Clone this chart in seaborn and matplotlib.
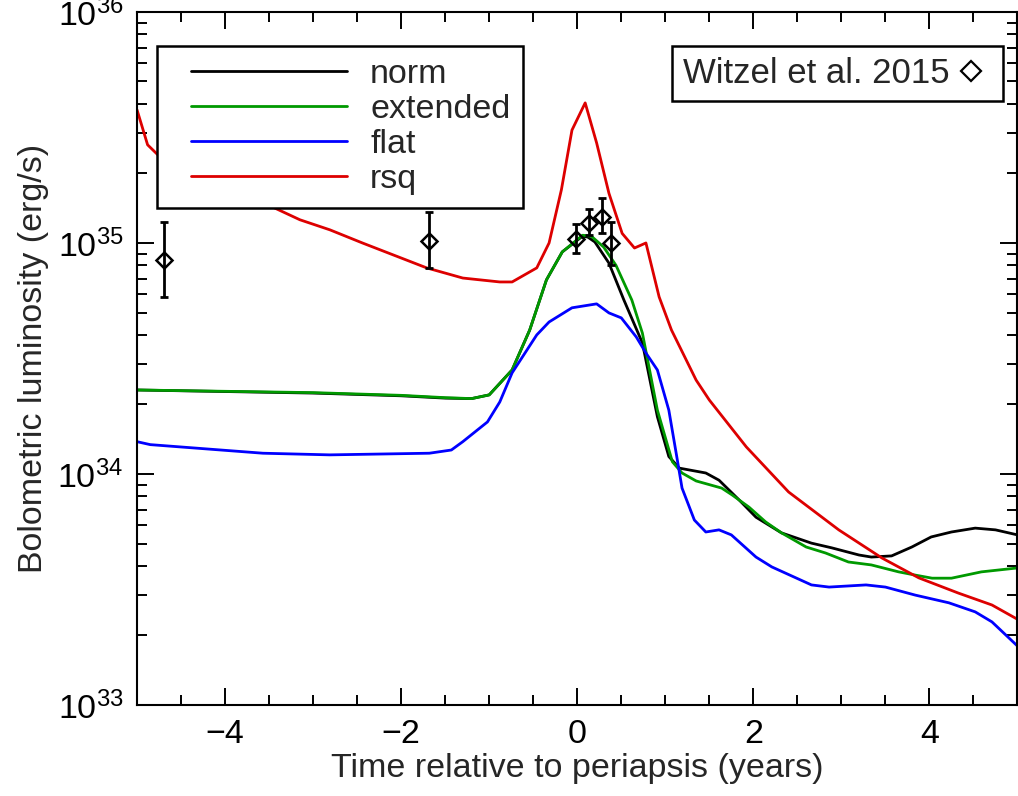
import numpy as np
import pandas as pd
import matplotlib
matplotlib.use('Agg')
import matplotlib.pyplot as plt
from matplotlib.lines import Line2D
from matplotlib.legend_handler import HandlerLine2D
import seaborn as sns

# model light curves: time (yr) and luminosity in units of 1e34 erg/s
t_norm = [-5.0, -3.0, -2.0, -1.5, -1.2, -1.0, -0.74, -0.54, -0.35, -0.17, 0.06, 0.12,
          0.2, 0.36, 0.53, 0.74, 0.91, 1.04, 1.16, 1.46, 1.61, 1.84, 2.03, 2.32, 2.66,
          2.89, 3.2, 3.34, 3.57, 3.8, 4.02, 4.25, 4.52, 4.75, 5.0]
L_norm = [2.31, 2.24, 2.18, 2.13, 2.12, 2.2, 2.82, 4.2, 6.92, 9.15, 10.7, 10.6,
          10.1, 8.18, 5.66, 3.69, 1.77, 1.19, 1.06, 1.01, 0.94, 0.771, 0.65, 0.556, 0.502,
          0.479, 0.446, 0.437, 0.442, 0.483, 0.534, 0.561, 0.583, 0.573, 0.545]

t_ext = [-5.0, -3.0, -2.0, -1.5, -1.2, -1.0, -0.74, -0.54, -0.35, -0.17, 0.06, 0.16,
         0.3, 0.44, 0.62, 0.74, 0.91, 1.08, 1.19, 1.35, 1.64, 1.76, 1.95, 2.14, 2.32,
         2.6, 2.82, 3.08, 3.34, 3.65, 3.84, 4.03, 4.25, 4.59, 5.0]
L_ext = [2.31, 2.25, 2.19, 2.14, 2.12, 2.2, 2.82, 4.2, 6.92, 9.15, 10.8, 10.7,
         9.6, 8.0, 5.66, 4.07, 1.89, 1.13, 1.01, 0.933, 0.869, 0.811, 0.719, 0.62, 0.556,
         0.483, 0.455, 0.416, 0.404, 0.377, 0.365, 0.354, 0.354, 0.377, 0.392]

t_flat = [-5.0, -4.85, -3.57, -2.81, -1.68, -1.43, -1.30, -1.02, -0.88, -0.74, -0.46,
          -0.32, -0.06, 0.22, 0.36, 0.50, 0.67, 0.78, 0.91, 1.04, 1.13, 1.19, 1.33, 1.46,
          1.61, 1.75, 2.03, 2.21, 2.66, 2.86, 3.28, 3.50, 3.84, 4.22, 4.52, 4.71, 5.0]
L_flat = [1.38, 1.34, 1.23, 1.21, 1.23, 1.27, 1.38, 1.68, 2.05, 2.74, 4.0,
          4.55, 5.24, 5.45, 4.98, 4.74, 3.92, 3.34, 2.82, 1.89, 1.19, 0.869, 0.632, 0.561,
          0.573, 0.545, 0.437, 0.396, 0.331, 0.324, 0.331, 0.324, 0.299, 0.277, 0.253, 0.229, 0.18]

t_rsq = [-5.0, -4.88, -4.76, -4.38, -3.64, -3.15, -2.81, -2.44, -1.71, -1.30, -0.88,
         -0.74, -0.46, -0.32, -0.18, -0.06, 0.09, 0.22, 0.36, 0.51, 0.65, 0.78, 0.93,
         1.07, 1.35, 1.50, 1.92, 2.40, 2.97, 3.46, 3.88, 4.33, 4.71, 5.0]
L_rsq = [37.7, 26.6, 24.0, 20.1, 15.4, 12.6, 11.4, 10.0, 7.8, 7.05, 6.78,
         6.78, 7.8, 10.0, 17.0, 30.8, 40.4, 27.1, 16.4, 11.0, 9.51, 10.0, 5.84,
         4.2, 2.55, 2.09, 1.31, 0.836, 0.573, 0.433, 0.355, 0.305, 0.271, 0.235]

# Witzel et al. 2015 points (1e34 erg/s)
t_obs = [-4.69, -1.68, -0.01, 0.13, 0.28, 0.38]
L_obs = [8.43, 10.2, 10.4, 12.2, 13.0, 10.0]
L_obs_lo = [5.84, 7.8, 9.06, 10.8, 11.0, 8.04]
L_obs_hi = [12.3, 13.6, 12.1, 14.0, 15.7, 12.3]

names = ['norm', 'extended', 'flat', 'rsq']
colors = ['#000000', '#009900', '#0000ff', '#dd0000']

frames = []
for name, t, L in zip(names, [t_norm, t_ext, t_flat, t_rsq], [L_norm, L_ext, L_flat, L_rsq]):
    frames.append(pd.DataFrame({'t': t, 'L': np.array(L) * 1e34, 'model': name}))
df = pd.concat(frames, ignore_index=True)

sns.set_style('ticks')
plt.rcParams['font.family'] = ['Liberation Sans', 'DejaVu Sans']
plt.rcParams['mathtext.default'] = 'regular'
plt.rcParams['font.size'] = 24.5

fig = plt.figure(figsize=(10.18, 7.96), dpi=100)
ax = fig.add_axes([0.1346, 0.1143, 0.8649, 0.8707])

lw = 2.0
sns.lineplot(data=df, x='t', y='L', hue='model', hue_order=names, palette=colors,
             estimator=None, sort=True, linewidth=lw, legend=False, ax=ax)

L_obs_a = np.array(L_obs) * 1e34
yerr = [L_obs_a - np.array(L_obs_lo) * 1e34, np.array(L_obs_hi) * 1e34 - L_obs_a]
ax.errorbar(t_obs, L_obs_a, yerr=yerr, fmt='none', ecolor='black', elinewidth=lw,
            capsize=3, capthick=lw, zorder=5)
ax.plot(t_obs, L_obs_a, linestyle='none', marker='D', markersize=8, markerfacecolor='none',
        markeredgecolor='black', markeredgewidth=1.8, zorder=6)

ax.set_yscale('log')
ax.set_xlim(-5, 5)
ax.set_ylim(1e33, 1e36)
ax.set_xticks([-4, -2, 0, 2, 4])
ax.set_xticks(np.arange(-5, 5.01, 0.5), minor=True)
ax.set_yticks([1e33, 1e34, 1e35, 1e36])
ax.set_yticklabels([r'$10^{33}$', r'$10^{34}$', r'$10^{35}$', r'$10^{36}$'])
ax.set_xlabel('Time relative to periapsis (years)', labelpad=2)
ax.set_ylabel('Bolometric luminosity (erg/s)', labelpad=6)

ax.tick_params(which='both', direction='in', top=True, right=True, width=1.4, colors='black')
ax.tick_params(which='major', length=12, pad=10)
ax.tick_params(which='minor', length=7)
for s in ax.spines.values():
    s.set_linewidth(1.5)
    s.set_color('black')

handles = [Line2D([], [], color=c, linewidth=lw) for c in colors]
leg = ax.legend(handles, names, loc='upper left', bbox_to_anchor=(0.0227, 0.951),
                borderaxespad=0, fancybox=False, edgecolor='black', framealpha=1,
                handlelength=5.2, handletextpad=0.68, labelspacing=0.12, borderpad=0.38,
                fontsize=24.5, handler_map={Line2D: HandlerLine2D(xpad=0.62)})
leg.get_frame().set_linewidth(1.8)
ax.add_artist(leg)

wh = [Line2D([], [], linestyle='none', marker='D', markersize=10, markerfacecolor='none',
             markeredgecolor='black', markeredgewidth=1.6)]
leg2 = ax.legend(wh, ['Witzel et al. 2015'], loc='upper right', bbox_to_anchor=(0.983, 0.951),
                 borderaxespad=0, fancybox=False, edgecolor='black', framealpha=1,
                 markerfirst=False, handlelength=1.2, handletextpad=0.0, borderpad=0.32,
                 fontsize=25)
leg2.get_frame().set_linewidth(1.8)

fig.savefig('out.png', dpi=100)
